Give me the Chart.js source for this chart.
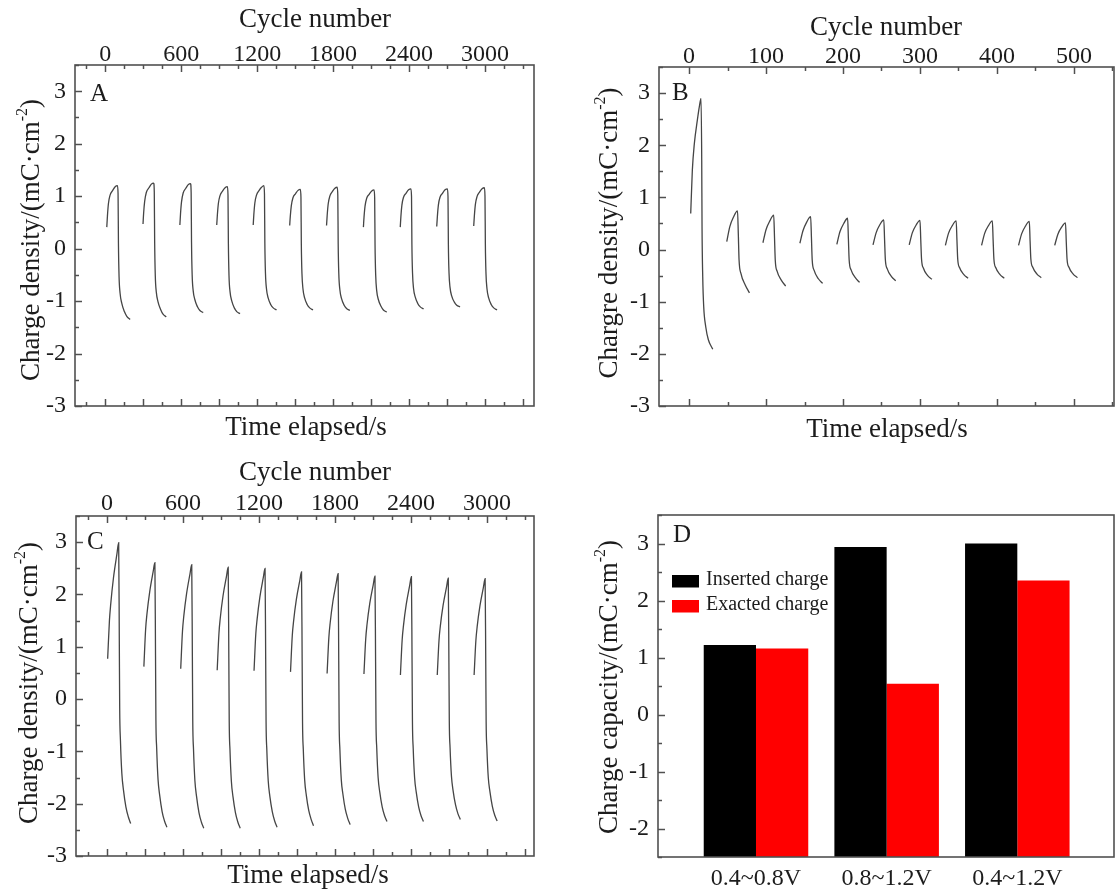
<!DOCTYPE html>
<html><head><meta charset="utf-8">
<script src="https://cdn.jsdelivr.net/npm/chart.js@4.4.1/dist/chart.umd.min.js"></script>
<style>
html,body{margin:0;padding:0;background:#fff;width:1116px;height:892px;overflow:hidden}
canvas{position:absolute;display:block}
</style></head><body>
<canvas id="cA" width="558" height="446" style="left:0;top:0"></canvas>
<canvas id="cB" width="558" height="446" style="left:558px;top:0"></canvas>
<canvas id="cC" width="558" height="446" style="left:0;top:446px"></canvas>
<canvas id="cD" width="558" height="446" style="left:558px;top:446px"></canvas>
<script>
// ---------------- DATA ----------------
// tick labels
const cycleTicksAC = [0, 600, 1200, 1800, 2400, 3000];
const cycleTicksB = [0, 100, 200, 300, 400, 500];
const densityTicks = [-3, -2, -1, 0, 1, 2, 3];
const capacityTicks = [-2, -1, 0, 1, 2, 3];

// Panel A (0.4~0.8 V): start cycle of each step, time offsets within a step (in cycle units), charge density
const startsA = [13, 299, 590, 881, 1169, 1457, 1748, 2039, 2330, 2618, 2910];
const offsetsA = [0, 5, 13, 26, 47, 66, 84, 89, 92, 97, 105, 118, 139, 158, 184];
const chargeA = [
  [0.41, 0.62, 0.86, 1.02, 1.11, 1.18, 1.20, 1.05, 0.10, -0.54, -0.85, -1.04, -1.20, -1.29, -1.35],
  [0.47, 0.68, 0.90, 1.07, 1.16, 1.23, 1.25, 1.08, 0.12, -0.52, -0.83, -1.01, -1.16, -1.25, -1.30],
  [0.45, 0.66, 0.89, 1.06, 1.15, 1.22, 1.24, 1.07, 0.12, -0.50, -0.80, -0.97, -1.11, -1.18, -1.22],
  [0.45, 0.64, 0.86, 1.01, 1.10, 1.16, 1.18, 1.02, 0.10, -0.52, -0.82, -0.99, -1.13, -1.20, -1.24],
  [0.45, 0.65, 0.87, 1.02, 1.11, 1.17, 1.20, 1.04, 0.10, -0.48, -0.77, -0.94, -1.07, -1.13, -1.17],
  [0.44, 0.62, 0.82, 0.97, 1.05, 1.11, 1.13, 0.98, 0.08, -0.48, -0.77, -0.94, -1.07, -1.13, -1.17],
  [0.44, 0.63, 0.85, 1.00, 1.09, 1.15, 1.17, 1.01, 0.09, -0.49, -0.78, -0.95, -1.08, -1.14, -1.18],
  [0.41, 0.60, 0.81, 0.96, 1.04, 1.10, 1.12, 0.97, 0.07, -0.50, -0.80, -0.97, -1.10, -1.17, -1.21],
  [0.41, 0.61, 0.83, 0.98, 1.06, 1.12, 1.14, 0.99, 0.08, -0.47, -0.76, -0.92, -1.05, -1.11, -1.15],
  [0.42, 0.61, 0.83, 0.98, 1.06, 1.12, 1.14, 0.99, 0.08, -0.46, -0.74, -0.90, -1.02, -1.08, -1.11],
  [0.43, 0.62, 0.84, 0.99, 1.08, 1.14, 1.16, 1.00, 0.09, -0.48, -0.77, -0.94, -1.07, -1.13, -1.17]
];

// Panel B (0.8~1.2 V)
const startsB = [2, 49, 96, 144, 192, 239, 286, 333, 380, 428, 475];
const offsetsB1 = [0.2, 2.3, 4.9, 8.8, 11.4, 13.6, 14.5, 14.9, 15.8, 17.1, 19.7, 23.1, 28.8];
const chargeB1 = [0.69, 1.52, 2.03, 2.48, 2.74, 2.90, 1.71, 0.44, -0.52, -1.10, -1.48, -1.73, -1.91];
const offsetsB = [0, 4, 9, 14, 15, 16, 18.5, 24, 29.5];
const chargeB = [
  [0.15, 0.44, 0.63, 0.74, 0.31, -0.20, -0.46, -0.68, -0.83],
  [0.13, 0.38, 0.55, 0.66, 0.25, -0.20, -0.42, -0.59, -0.70],
  [0.12, 0.36, 0.53, 0.63, 0.23, -0.20, -0.40, -0.56, -0.65],
  [0.10, 0.34, 0.50, 0.60, 0.21, -0.20, -0.39, -0.54, -0.63],
  [0.09, 0.32, 0.48, 0.57, 0.19, -0.19, -0.37, -0.52, -0.60],
  [0.09, 0.32, 0.47, 0.56, 0.19, -0.18, -0.36, -0.50, -0.57],
  [0.08, 0.31, 0.46, 0.55, 0.18, -0.18, -0.35, -0.48, -0.55],
  [0.08, 0.31, 0.46, 0.55, 0.18, -0.18, -0.35, -0.48, -0.55],
  [0.08, 0.30, 0.45, 0.54, 0.17, -0.18, -0.34, -0.47, -0.54],
  [0.08, 0.29, 0.43, 0.51, 0.15, -0.18, -0.34, -0.47, -0.54]
];

// Panel C (0.4~1.2 V)
const startsC = [5, 291, 582, 870, 1161, 1449, 1738, 2029, 2317, 2608, 2899];
const offsetsC = [0, 14, 24, 46, 73, 87, 92, 95, 101, 112, 125, 144, 163, 182];
const chargeC = [
  [0.77, 1.50, 1.81, 2.32, 2.77, 2.99, 1.12, -0.16, -0.79, -1.42, -1.74, -2.06, -2.25, -2.38],
  [0.62, 1.34, 1.62, 2.05, 2.43, 2.61, 0.84, -0.38, -0.93, -1.54, -1.84, -2.15, -2.33, -2.45],
  [0.58, 1.30, 1.58, 2.01, 2.39, 2.57, 0.81, -0.40, -0.96, -1.56, -1.86, -2.17, -2.35, -2.47],
  [0.55, 1.26, 1.54, 1.97, 2.34, 2.52, 0.77, -0.42, -0.97, -1.57, -1.87, -2.17, -2.35, -2.47],
  [0.54, 1.25, 1.52, 1.95, 2.32, 2.50, 0.77, -0.42, -0.97, -1.56, -1.86, -2.15, -2.33, -2.45],
  [0.52, 1.21, 1.48, 1.90, 2.26, 2.43, 0.73, -0.43, -0.96, -1.55, -1.84, -2.13, -2.30, -2.42],
  [0.49, 1.18, 1.45, 1.87, 2.23, 2.40, 0.72, -0.43, -0.96, -1.54, -1.82, -2.11, -2.28, -2.40],
  [0.48, 1.15, 1.42, 1.83, 2.18, 2.35, 0.71, -0.42, -0.93, -1.50, -1.78, -2.06, -2.23, -2.34],
  [0.46, 1.14, 1.40, 1.81, 2.17, 2.34, 0.70, -0.42, -0.94, -1.50, -1.78, -2.06, -2.23, -2.34],
  [0.46, 1.13, 1.39, 1.79, 2.14, 2.31, 0.70, -0.41, -0.92, -1.47, -1.75, -2.02, -2.19, -2.30],
  [0.46, 1.12, 1.38, 1.78, 2.13, 2.30, 0.68, -0.43, -0.94, -1.50, -1.77, -2.05, -2.22, -2.33]
];

// Panel D
const rangeLabels = ['0.4~0.8V', '0.8~1.2V', '0.4~1.2V'];
const insertedCharge = [1.22, 2.94, 3.00];
const extractedCharge = [1.16, 0.54, 2.35];
const seriesNames = ['Inserted charge', 'Exacted charge'];

// ---------------- STYLE / HELPERS ----------------
const SERIF = '"Liberation Serif","Times New Roman",serif';
const INK = '#1c1c1c', AXIS = '#505050', LINE = '#454545';
const W = 558, H = 446, TICK_FONT = 24;

function seg(starts, offsets, ys, k) {
  return {
    data: ys.map((y, i) => ({x: starts[k] + offsets[i], y})),
    borderColor: LINE, borderWidth: 1.3, pointRadius: 0, fill: false,
    cubicInterpolationMode: 'monotone'
  };
}
const fixTicks = vals => s => { s.ticks = vals.map(v => ({value: v})); };

function txt(ctx, s, x, y, size, align) {
  ctx.font = size + 'px ' + SERIF;
  ctx.fillStyle = INK;
  ctx.textAlign = align || 'center';
  ctx.textBaseline = 'middle';
  ctx.fillText(s, x, y);
}

function yTitle(ctx, main, x, y, size) {
  const big = size + 'px ' + SERIF, small = Math.round(size * 0.6) + 'px ' + SERIF;
  ctx.save();
  ctx.translate(x, y); ctx.rotate(-Math.PI / 2);
  ctx.fillStyle = INK; ctx.textAlign = 'left'; ctx.textBaseline = 'alphabetic';
  ctx.font = big;
  const w1 = ctx.measureText(main).width, w3 = ctx.measureText(')').width;
  ctx.font = small;
  const w2 = ctx.measureText('-2').width;
  let cx = -(w1 + w2 + w3) / 2;
  const base = size * 0.33;
  ctx.font = big; ctx.fillText(main, cx, base); cx += w1;
  ctx.font = small; ctx.fillText('-2', cx, base - size * 0.45); cx += w2;
  ctx.font = big; ctx.fillText(')', cx, base);
  ctx.restore();
}

function deco(cfg) {
  return {
    id: 'deco',
    afterDraw(chart) {
      const ctx = chart.ctx, a = chart.chartArea;
      ctx.save();
      ctx.strokeStyle = AXIS; ctx.lineWidth = 1.5;
      for (const t of cfg.ticks) {
        const s = chart.scales[t.scale];
        const first = Math.ceil(s.min / t.step - 1e-9);
        for (let n = first; n * t.step <= s.max + 1e-9; n++) {
          const v = Math.round(n * t.step * 1000) / 1000;
          const r = v / t.major;
          const major = Math.abs(r - Math.round(r)) < 1e-6;
          const len = major ? 7 : 4;
          const p = Math.round(s.getPixelForValue(v)) + 0.5;
          ctx.beginPath();
          if (t.side === 'top') { ctx.moveTo(p, a.top); ctx.lineTo(p, a.top + len); }
          else if (t.side === 'bottom') { ctx.moveTo(p, a.bottom); ctx.lineTo(p, a.bottom - len); }
          else { ctx.moveTo(a.left, p); ctx.lineTo(a.left + len, p); }
          ctx.stroke();
        }
      }
      ctx.lineWidth = 1.6;
      ctx.strokeRect(a.left, a.top, a.right - a.left, a.bottom - a.top);
      for (const t of cfg.titles) txt(ctx, t.t, t.x, t.y, 27);
      txt(ctx, cfg.letter.t, cfg.letter.x, cfg.letter.y, 25, 'left');
      yTitle(ctx, cfg.ytitle.t, cfg.ytitle.x, cfg.ytitle.y, 27);
      if (cfg.legend) {
        const L = cfg.legend;
        chart.data.datasets.forEach((d, i) => {
          ctx.fillStyle = d.backgroundColor;
          ctx.fillRect(L.x, L.ys[i], L.w, L.h);
          txt(ctx, d.label, L.tx, L.ty[i], 20, 'left');
        });
      }
      ctx.restore();
    }
  };
}

function linePanel(id, area, xr, datasets, cfg) {
  new Chart(document.getElementById(id), {
    type: 'line',
    data: {datasets},
    options: {
      responsive: false, animation: false, events: [],
      layout: {padding: {left: 0, top: 0, right: W - area.r, bottom: 0}},
      plugins: {legend: {display: false}, tooltip: {enabled: false}},
      scales: {
        x: {type: 'linear', position: 'bottom', min: xr.min, max: xr.max,
            grid: {display: false}, border: {display: false}, ticks: {display: false},
            afterFit: s => { s.height = H - area.b; }},
        x2: {type: 'linear', position: 'top', min: xr.min, max: xr.max,
             grid: {display: false, drawTicks: false}, border: {display: false},
             afterBuildTicks: fixTicks(xr.ticks),
             ticks: {autoSkip: false, maxRotation: 0, padding: xr.pad, color: INK,
                     font: {family: SERIF, size: TICK_FONT}, callback: v => String(v)},
             afterFit: s => { s.height = area.t; }},
        y: {type: 'linear', min: -3, max: 3.5,
            grid: {display: false, drawTicks: false}, border: {display: false},
            afterBuildTicks: fixTicks(densityTicks),
            ticks: {autoSkip: false, padding: 9, color: INK,
                    font: {family: SERIF, size: TICK_FONT}, callback: v => String(v)},
            afterFit: s => { s.width = area.l; }}
      }
    },
    plugins: [deco(cfg)]
  });
}

// ---------------- PANEL A ----------------
linePanel('cA', {l: 75, t: 65, r: 534, b: 406},
  {min: -238, max: 3386, ticks: cycleTicksAC, pad: -4},
  chargeA.map((ys, k) => seg(startsA, offsetsA, ys, k)),
  {ticks: [{scale: 'x2', side: 'top', step: 150, major: 600},
           {scale: 'x', side: 'bottom', step: 150, major: 300},
           {scale: 'y', side: 'left', step: 0.5, major: 1}],
   titles: [{t: 'Cycle number', x: 315, y: 20}, {t: 'Time elapsed/s', x: 306, y: 428}],
   letter: {t: 'A', x: 90, y: 94},
   ytitle: {t: 'Charge density/(mC\u00B7cm', x: 30, y: 240}});

// ---------------- PANEL B ----------------
linePanel('cB', {l: 101, t: 67, r: 556, b: 406},
  {min: -39, max: 552, ticks: cycleTicksB, pad: -4},
  [seg([startsB[0]], offsetsB1, chargeB1, 0)].concat(
    chargeB.map((ys, k) => seg(startsB.slice(1), offsetsB, ys, k))),
  {ticks: [{scale: 'x2', side: 'top', step: 50, major: 100},
           {scale: 'x', side: 'bottom', step: 50, major: 100},
           {scale: 'y', side: 'left', step: 0.5, major: 1}],
   titles: [{t: 'Cycle number', x: 328, y: 28}, {t: 'Time elapsed/s', x: 329, y: 430}],
   letter: {t: 'B', x: 114, y: 93},
   ytitle: {t: 'Chargre density/(mC\u00B7cm', x: 50, y: 233}});

// ---------------- PANEL C ----------------
linePanel('cC', {l: 76, t: 70, r: 534, b: 410},
  {min: -245, max: 3372, ticks: cycleTicksAC, pad: -2},
  chargeC.map((ys, k) => seg(startsC, offsetsC, ys, k)),
  {ticks: [{scale: 'x2', side: 'top', step: 150, major: 600},
           {scale: 'x', side: 'bottom', step: 150, major: 300},
           {scale: 'y', side: 'left', step: 0.5, major: 1}],
   titles: [{t: 'Cycle number', x: 315, y: 27}, {t: 'Time elapsed/s', x: 308, y: 430}],
   letter: {t: 'C', x: 87, y: 96},
   ytitle: {t: 'Charge density/(mC\u00B7cm', x: 28, y: 237}});

// ---------------- PANEL D ----------------
(function () {
  const area = {l: 100, t: 69, r: 556, b: 411};
  new Chart(document.getElementById('cD'), {
    type: 'bar',
    data: {datasets: [
      {label: seriesNames[0], data: insertedCharge.map((v, i) => ({x: i + 1, y: v})),
       backgroundColor: '#000000', base: -2.5, categoryPercentage: 0.8, barPercentage: 1.0},
      {label: seriesNames[1], data: extractedCharge.map((v, i) => ({x: i + 1, y: v})),
       backgroundColor: '#ff0000', base: -2.5, categoryPercentage: 0.8, barPercentage: 1.0}
    ]},
    options: {
      responsive: false, animation: false, events: [],
      layout: {padding: {left: 0, top: area.t, right: W - area.r, bottom: 0}},
      plugins: {legend: {display: false}, tooltip: {enabled: false}},
      scales: {
        x: {type: 'linear', position: 'bottom', min: 0.25, max: 3.74, offset: false,
            grid: {display: false, drawTicks: false, offset: false}, border: {display: false},
            afterBuildTicks: fixTicks(rangeLabels.map((l, i) => i + 1)),
            ticks: {autoSkip: false, maxRotation: 0, padding: 7,
                    color: INK, font: {family: SERIF, size: TICK_FONT},
                    callback: v => rangeLabels[v - 1] || ''},
            afterFit: s => { s.height = H - area.b; }},
        y: {type: 'linear', min: -2.5, max: 3.5,
            grid: {display: false, drawTicks: false}, border: {display: false},
            afterBuildTicks: fixTicks(capacityTicks),
            ticks: {autoSkip: false, padding: 9, color: INK,
                    font: {family: SERIF, size: TICK_FONT}, callback: v => String(v)},
            afterFit: s => { s.width = area.l; }}
      }
    },
    plugins: [deco({
      ticks: [{scale: 'y', side: 'left', step: 0.5, major: 1}],
      titles: [],
      letter: {t: 'D', x: 115, y: 89},
      ytitle: {t: 'Charge capacity/(mC\u00B7cm', x: 50, y: 241},
      legend: {x: 114, ys: [129, 154], w: 27, h: 12.5, tx: 148, ty: [134, 159]}
    })]
  });
})();
</script>
</body></html>
